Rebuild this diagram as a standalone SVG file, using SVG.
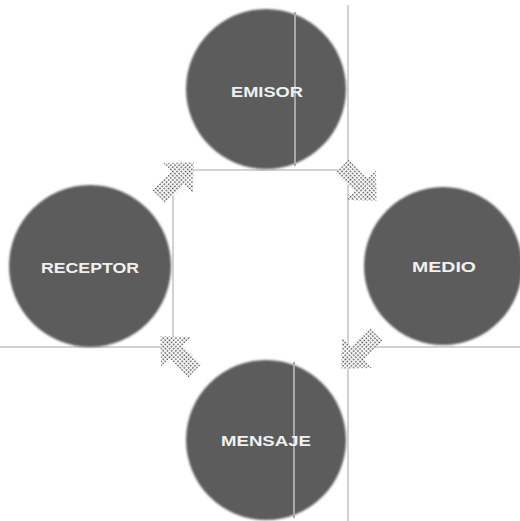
<svg xmlns="http://www.w3.org/2000/svg" width="520" height="521" viewBox="0 0 520 521">
  <defs>
    <pattern id="dots" width="3" height="3" patternUnits="userSpaceOnUse">
      <rect width="3" height="3" fill="#ffffff"/>
      <rect x="0" y="0" width="1.5" height="1.5" fill="#4a4a4a"/>
    </pattern>
    <filter id="soft" x="-10%" y="-10%" width="120%" height="120%">
      <feGaussianBlur stdDeviation="1.2"/>
    </filter>
    <path id="arrow" d="M-24,-9 L3,-9 L3,-21 L25,0 L3,21 L3,9 L-24,9 Z"/>
  </defs>
  <style>
    .node circle { fill: #5c5c5c; filter: url(#soft); }
    .node text { fill: #f0f0f0; font-family: "Liberation Sans", Arial, sans-serif; font-weight: bold; font-size: 15px; text-anchor: middle; dominant-baseline: central; }
    .scan { stroke: #d2d2d2; stroke-width: 2; fill: none; }
    .stripe { stroke: #a8a8a8; stroke-width: 2; fill: none; }
    .arr { fill: url(#dots); }
  </style>
  <rect width="520" height="521" fill="#ffffff"/>

  <g id="lines">
    <line class="scan" x1="348" y1="5" x2="348" y2="521"/>
    <line class="scan" x1="173" y1="180" x2="173" y2="347"/>
    <line class="scan" x1="180" y1="170" x2="348" y2="170"/>
    <line class="scan" x1="0" y1="347" x2="175" y2="347"/>
    <line class="scan" x1="348" y1="347" x2="520" y2="347"/>
  </g>

  <g id="emisor" class="node">
    <circle cx="266" cy="89" r="80"/>
    <line class="stripe" x1="295" y1="12" x2="295" y2="166"/>
    <text x="267" y="91" textLength="72" lengthAdjust="spacingAndGlyphs">EMISOR</text>
  </g>
  <g id="medio" class="node">
    <circle cx="443" cy="266" r="79"/>
    <text x="444" y="266" textLength="64" lengthAdjust="spacingAndGlyphs">MEDIO</text>
  </g>
  <g id="mensaje" class="node">
    <circle cx="266" cy="440" r="80"/>
    <line class="stripe" x1="294" y1="362" x2="294" y2="518"/>
    <text x="266" y="440" textLength="90" lengthAdjust="spacingAndGlyphs">MENSAJE</text>
  </g>
  <g id="receptor" class="node">
    <circle cx="90" cy="266" r="81"/>
    <text x="90" y="267" textLength="98" lengthAdjust="spacingAndGlyphs">RECEPTOR</text>
  </g>

  <g id="connectors">
    <use href="#arrow" class="arr" transform="translate(176,180) rotate(-45)"/>
    <use href="#arrow" class="arr" transform="translate(359,183) rotate(45)"/>
    <use href="#arrow" class="arr" transform="translate(359,351) rotate(135)"/>
    <use href="#arrow" class="arr" transform="translate(178,354) rotate(-135)"/>
  </g>
</svg>
